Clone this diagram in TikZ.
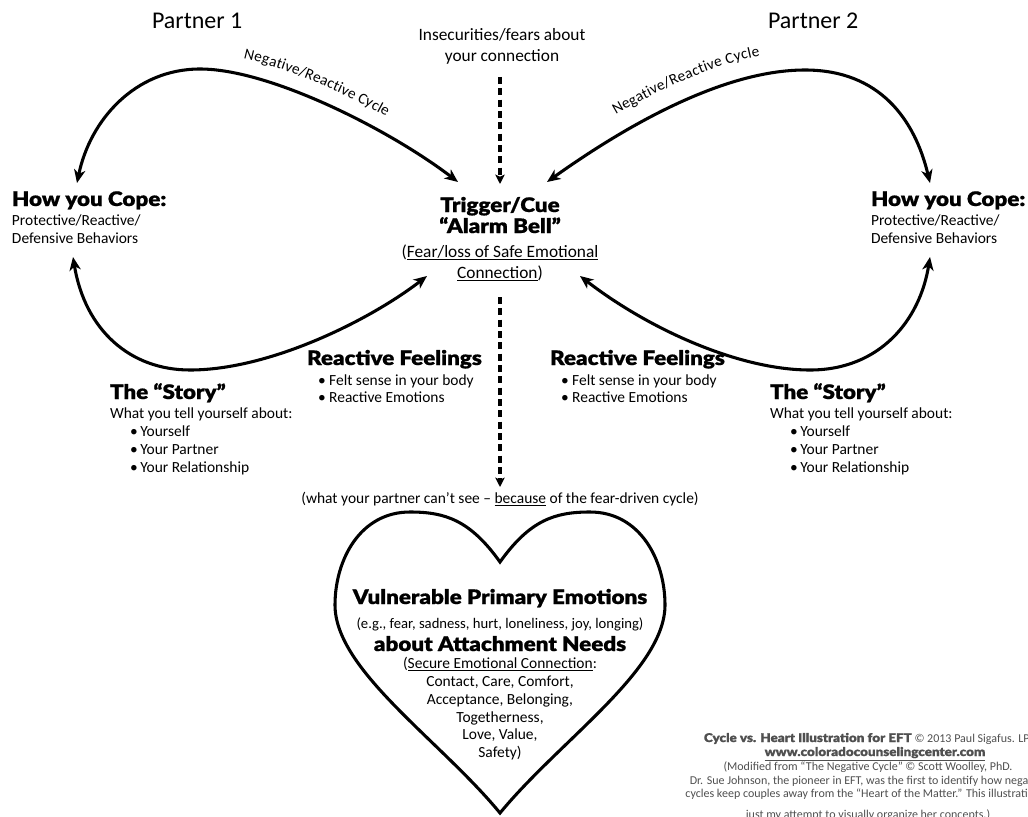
\documentclass[tikz,border=0pt]{standalone}
\usepackage{fontspec}
\setmainfont{Carlito}
\newfontfamily\heavy{Lato Black}[FakeStretch=1.12, FakeBold=0.8]
\newcommand{\labfont}{\fontsize{11.5}{13}\selectfont}
\usetikzlibrary{arrows.meta,decorations.text}
\definecolor{footgray}{RGB}{80,80,80}
\tikzset{
  body/.style={font=\fontsize{13}{15}\selectfont, inner sep=0pt, outer sep=0pt},
  small/.style={font=\fontsize{11.6}{13}\selectfont, inner sep=0pt, outer sep=0pt},
  hhead/.style={font=\heavy\fontsize{15}{17}\selectfont, inner sep=0pt, outer sep=0pt},
  ptitle/.style={font=\fontsize{18}{21}\selectfont, inner sep=0pt, outer sep=0pt},
  foot/.style={font=\fontsize{9}{10}\selectfont, text=footgray, inner sep=0pt, outer sep=0pt},
  cyc/.style={line width=2.3pt, {Stealth[length=10pt,width=8.5pt,inset=3pt]}-{Stealth[length=10pt,width=8.5pt,inset=3pt]}},
  dasharrow/.style={line width=2.3pt, dash pattern=on 5.3pt off 3.2pt, -{Stealth[length=7pt,width=7pt,inset=1.5pt]}},
  heartline/.style={line width=2.3pt}
}
\begin{document}
\begin{tikzpicture}[x=0.75pt,y=-0.75pt]
\useasboundingbox (0,0) rectangle (1028,817);
\fill[white] (0,0) rectangle (1028,817);
\clip (0,0) rectangle (1028,817);

% titles
\node[ptitle, anchor=base west] (p1) at (152,29) {Partner 1};
\node[ptitle, anchor=base west] (p2) at (768,29) {Partner 2};

% insecurities
\node[body, anchor=base] (ins1) at (502,41) {Insecurities/fears about};
\node[body, anchor=base] (ins2) at (502,62) {your connection};

% trigger
\node[hhead, anchor=base] (trg1) at (500,212) {Trigger/Cue};
\node[hhead, anchor=base] (trg2) at (500,233) {“Alarm Bell”};
\node[body, anchor=base] (trg3) at (500,257) {(\underline{Fear/loss of Safe Emotional}};
\node[body, anchor=base] (trg4) at (500,278) {\underline{Connection})};

% how you cope left / right
\node[hhead, anchor=base west] (copeL) at (12,206) {How you Cope:};
\node[small, anchor=base west] (copeL2) at (12,225) {Protective/Reactive/};
\node[small, anchor=base west] (copeL3) at (12,243) {Defensive Behaviors};
\node[hhead, anchor=base west] (copeR) at (871,206) {How you Cope:};
\node[small, anchor=base west] (copeR2) at (871,225) {Protective/Reactive/};
\node[small, anchor=base west] (copeR3) at (871,243) {Defensive Behaviors};

% reactive feelings
\node[hhead, anchor=base west] (rfL) at (307,365) {Reactive Feelings};
\node[small, anchor=base west] (rfL1) at (318,385) {\textbullet\ Felt sense in your body};
\node[small, anchor=base west] (rfL2) at (318,402) {\textbullet\ Reactive Emotions};
\node[hhead, anchor=base west] (rfR) at (550,365) {Reactive Feelings};
\node[small, anchor=base west] (rfR1) at (561,385) {\textbullet\ Felt sense in your body};
\node[small, anchor=base west] (rfR2) at (561,402) {\textbullet\ Reactive Emotions};

% story
\node[hhead, anchor=base west] (stL) at (110,399) {The “Story”};
\node[small, anchor=base west] (stL0) at (110,418) {What you tell yourself about:};
\node[small, anchor=base west] (stL1) at (130,436) {\textbullet\,Yourself};
\node[small, anchor=base west] (stL2) at (130,454) {\textbullet\,Your Partner};
\node[small, anchor=base west] (stL3) at (130,472) {\textbullet\,Your Relationship};
\node[hhead, anchor=base west] (stR) at (770,399) {The “Story”};
\node[small, anchor=base west] (stR0) at (770,418) {What you tell yourself about:};
\node[small, anchor=base west] (stR1) at (790,436) {\textbullet\,Yourself};
\node[small, anchor=base west] (stR2) at (790,454) {\textbullet\,Your Partner};
\node[small, anchor=base west] (stR3) at (790,472) {\textbullet\,Your Relationship};

% what partner can't see
\node[small, anchor=base] (cant) at (500,503) {(what your partner can’t see – \underline{because} of the fear-driven cycle)};

% heart
\draw[heartline] (500,562) .. controls (470,520) and (445,512) .. (410,512)
  .. controls (360,512) and (335,560) .. (335,605)
  .. controls (335,670) and (440,740) .. (500,813)
  .. controls (560,740) and (665,670) .. (665,605)
  .. controls (665,560) and (640,512) .. (590,512)
  .. controls (555,512) and (530,520) .. (500,562) -- cycle;

\node[hhead, anchor=base] (h1) at (500,604) {Vulnerable Primary Emotions};
\node[small, anchor=base, font=\fontsize{11}{13}\selectfont] (h2) at (500,628) {(e.g., fear, sadness, hurt, loneliness, joy, longing)};
\node[hhead, anchor=base] (h3) at (500,651) {about Attachment Needs};
\node[small, anchor=base] (h4) at (500,668) {(\underline{Secure Emotional Connection}:};
\node[small, anchor=base] (h5) at (500,686) {Contact, Care, Comfort,};
\node[small, anchor=base] (h6) at (500,704) {Acceptance, Belonging,};
\node[small, anchor=base] (h7) at (500,722) {Togetherness,};
\node[small, anchor=base] (h8) at (500,739) {Love, Value,};
\node[small, anchor=base] (h9) at (500,757) {Safety)};

% footer
\node[foot, anchor=base] (f1) at (870,742) {{\heavy Cycle vs. Heart Illustration for EFT} © 2013 Paul Sigafus. LPC};
\node[foot, anchor=base] (f2) at (875,756) {{\heavy\underline{www.coloradocounselingcenter.com}}};
\node[foot, anchor=base] (f3) at (868,770) {(Modified from “The Negative Cycle” © Scott Woolley, PhD.};
\node[foot, anchor=base] (f4) at (868,784) {Dr. Sue Johnson, the pioneer in EFT, was the first to identify how negative};
\node[foot, anchor=base] (f5) at (868,797) {cycles keep couples away from the “Heart of the Matter.” This illustration is};
\node[foot, anchor=base] (f6) at (868,818) {just my attempt to visually organize her concepts.)};

% curve end points
\coordinate (ulA) at (77,183);
\coordinate (ulB) at (458,182);
\coordinate (urA) at (547,182);
\coordinate (urB) at (930,183);
\coordinate (llA) at (73,257);
\coordinate (llB) at (427,276);
\coordinate (lrA) at (580,276);
\coordinate (lrB) at (930,257);

\draw[cyc] (ulA) .. controls (90,120) and (135,69) .. (200,69)
  .. controls (270,69) and (390,130) .. (ulB);
\draw[cyc] (urA) .. controls (620,130) and (720,70) .. (805,70)
  .. controls (880,70) and (915,120) .. (urB);
\draw[cyc] (llA) .. controls (85,330) and (130,370) .. (190,370)
  .. controls (270,370) and (370,320) .. (llB);
\draw[cyc] (lrA) .. controls (650,330) and (740,370) .. (810,370)
  .. controls (880,370) and (920,320) .. (lrB);

% cycle labels along the arcs
\path[decorate, decoration={text along path, raise=12pt,
   text align={left indent=30pt},
   text={|\labfont|Negative/Reactive Cycle}}]
  (200,69) .. controls (270,69) and (390,130) .. (457,181);
\path[decorate, decoration={text along path, raise=14pt,
   text align={left indent=70pt},
   text={|\labfont|Negative/Reactive Cycle}}]
  (547,182) .. controls (620,130) and (720,70) .. (805,70);

% dashed arrows
\coordinate (d1a) at (500,77);
\coordinate (d1b) at (500,184);
\coordinate (d2a) at (500,297);
\coordinate (d2b) at (500,487);
\draw[dasharrow] (d1a) -- (d1b);
\draw[dasharrow] (d2a) -- (d2b);
\end{tikzpicture}
\end{document}
